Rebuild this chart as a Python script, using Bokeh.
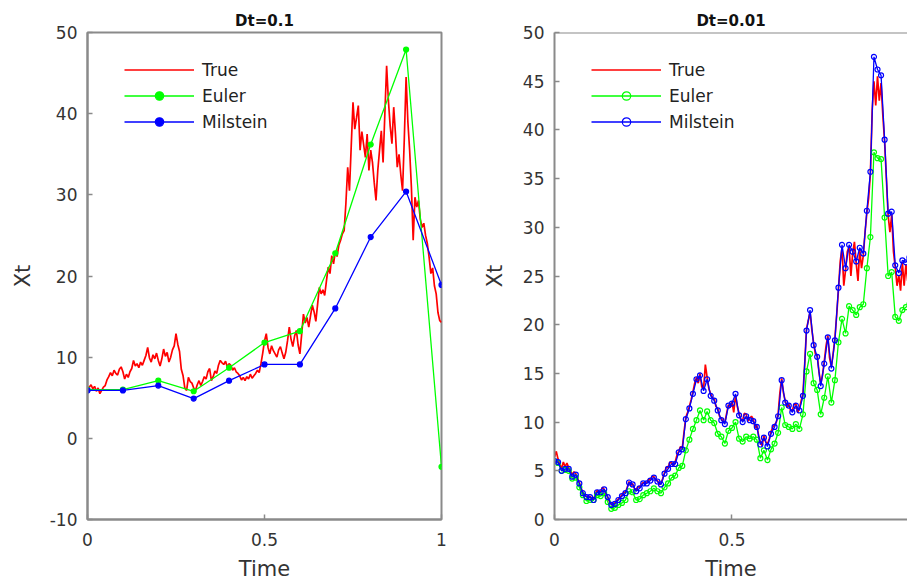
from bokeh.plotting import figure
from bokeh.layouts import row
from bokeh.models import Range1d, FixedTicker, Legend, LegendItem, Span
from bokeh.embed import file_html
from bokeh.resources import INLINE

# ---------------- data: coarse step Dt = 0.1 ----------------
t_coarse = [0.0, 0.1, 0.2, 0.3, 0.4, 0.5, 0.6, 0.7, 0.8, 0.9, 1.0]
euler_coarse = [6.0, 6.0, 7.1, 5.8, 8.7, 11.8, 13.2, 22.8, 36.2, 47.9, -3.5]
milstein_coarse = [5.9, 5.9, 6.5, 4.9, 7.1, 9.1, 9.1, 16.0, 24.8, 30.4, 18.9]

# exact path for the Dt = 0.1 panel, sampled every 0.005
true_coarse = [
    6.0, 6.3, 6.6, 6.1, 6.4, 5.8, 6.2, 5.5, 5.9, 6.3,
    6.5, 7.2, 7.6, 8.1, 7.7, 8.4, 8.0, 7.8, 8.5, 8.8,
    8.2, 7.3, 7.9, 7.5, 8.2, 8.6, 9.6, 8.9, 9.2, 8.7,
    9.4, 9.0, 9.6, 10.2, 11.2, 9.9, 9.4, 10.3, 9.8, 10.5,
    9.6, 8.9, 9.8, 11.0, 10.1, 10.6, 9.4, 10.0, 10.9, 11.4,
    12.9, 11.6, 10.7, 8.5, 7.7, 6.2, 5.9, 7.5, 7.0, 6.8,
    6.2, 5.9, 6.6, 7.1, 6.5, 7.0, 7.6, 7.3, 8.2, 8.6,
    7.1, 7.6, 8.3, 8.0, 9.0, 9.6, 9.3, 9.1, 9.5, 8.8,
    9.2, 9.0, 8.4, 8.7, 8.2, 8.0, 7.7, 7.2, 7.5, 7.1,
    7.6, 7.3, 7.9, 7.4, 7.7, 8.0, 8.4, 8.1, 9.2, 10.5,
    12.0, 12.9, 11.2, 10.4, 11.4, 10.8, 10.4, 10.0, 10.9, 11.3,
    10.5, 9.8, 10.6, 12.0, 13.7, 12.2, 11.3, 12.6, 13.3, 11.5,
    10.4, 12.8, 15.3, 14.2, 14.9, 13.7, 15.1, 16.4, 15.6, 14.4,
    16.5, 18.6, 17.8, 18.3, 17.6, 19.4, 21.1, 20.3, 22.5, 21.5,
    23.0, 22.4, 23.8, 24.4, 25.2, 25.6, 29.0, 33.4, 30.5, 36.0,
    41.4, 38.1, 39.5, 41.0, 35.5, 37.8, 36.2, 34.6, 37.5, 33.0,
    35.5, 34.0, 31.5, 29.3, 33.0, 35.5, 37.9, 34.0, 40.0, 45.9,
    41.6, 38.5, 36.3, 40.8, 37.5, 33.4, 35.0, 32.5, 30.5, 37.0,
    44.5, 39.0, 35.5, 30.9, 24.4, 29.7, 28.5, 29.3, 27.0, 26.0,
    26.5, 25.0, 24.0, 22.3, 20.3, 21.0, 18.8, 17.8, 15.5, 14.5,
    14.3,
]

# ---------------- data: fine step Dt = 0.01 ----------------
euler_fine = [
    6.0, 5.8, 5.0, 5.1, 5.0, 4.2, 4.3, 3.3, 2.5, 1.9,
    2.0, 2.0, 2.5, 2.4, 2.7, 1.8, 1.1, 1.2, 1.5, 1.7,
    2.0, 2.9, 2.8, 2.0, 2.1, 2.5, 2.7, 2.9, 3.2, 2.9,
    2.7, 3.3, 3.7, 4.3, 4.5, 5.3, 5.5, 7.1, 8.2, 9.3,
    10.2, 11.2, 10.2, 11.1, 10.2, 9.9, 8.8, 8.5, 7.8, 9.1,
    9.4, 10.0, 8.3, 8.0, 8.5, 8.3, 8.5, 8.2, 6.3, 7.1,
    6.1, 7.2, 7.8, 8.9, 11.5, 9.7, 9.5, 9.3, 9.8, 9.3,
    10.8, 15.2, 17.0, 14.0, 13.3, 10.8, 12.5, 14.7, 12.0, 14.3,
    18.2, 20.6, 19.1, 21.9, 21.5, 21.0, 21.8, 22.1, 25.8, 29.0,
    37.7, 37.1, 37.0, 31.0, 25.0, 25.4, 20.8, 20.4, 21.5, 21.8,
    22.1,
]
milstein_fine = [
    6.0, 5.9, 5.0, 5.2, 5.2, 4.4, 4.6, 3.7, 2.7, 2.3,
    2.3, 2.0, 2.8, 2.8, 3.1, 2.3, 1.5, 1.6, 2.0, 2.4,
    2.7, 3.8, 3.6, 2.9, 3.2, 3.7, 3.7, 4.0, 4.3, 3.9,
    3.6, 4.7, 5.2, 5.7, 5.7, 6.9, 7.2, 10.3, 11.4, 12.9,
    14.4, 14.8, 13.2, 14.4, 12.7, 12.2, 11.2, 10.2, 9.8, 11.7,
    11.9, 12.9, 10.7, 10.0, 10.6, 10.2, 10.1, 9.5, 7.7, 8.4,
    7.5, 8.8, 9.5, 10.6, 14.3, 12.0, 11.7, 11.0, 11.7, 11.2,
    12.7, 19.4, 21.5, 17.9, 16.7, 13.7, 16.0, 18.7, 15.5, 18.4,
    23.8, 28.2, 25.8, 28.2, 27.5, 26.5, 27.9, 27.3, 31.7, 35.7,
    47.5, 46.2, 45.6, 39.0, 31.4, 31.6, 26.1, 25.3, 26.6, 26.4,
    26.9,
]
# exact path for the Dt = 0.01 panel, sampled every 0.005
true_fine = [
    6.4, 7.0, 6.2, 5.6, 5.3, 5.9, 5.4, 5.8, 5.3, 5.0,
    4.6, 4.9, 4.7, 4.2, 3.8, 3.2, 2.8, 2.5, 2.4, 2.2,
    2.4, 2.1, 2.1, 2.6, 3.0, 2.7, 2.9, 3.3, 3.1, 2.6,
    2.3, 1.8, 1.6, 1.4, 1.7, 1.9, 2.1, 2.3, 2.5, 2.8,
    2.8, 3.3, 3.9, 3.5, 3.7, 3.2, 3.0, 3.4, 3.3, 3.6,
    3.8, 3.6, 3.8, 4.1, 4.1, 4.4, 4.4, 4.1, 4.0, 3.6,
    3.7, 4.2, 4.8, 5.4, 5.3, 5.9, 5.8, 5.5, 5.9, 6.6,
    7.0, 7.5, 7.3, 9.0, 10.5, 11.0, 11.6, 12.3, 13.1, 14.0,
    14.6, 14.0, 15.0, 13.6, 13.4, 15.9, 14.6, 13.4, 12.9, 12.5,
    12.4, 11.6, 11.4, 10.6, 10.4, 10.0, 10.0, 10.9, 11.8, 11.5,
    12.1, 11.0, 12.8, 11.6, 10.9, 10.2, 10.2, 10.9, 10.8, 10.1,
    10.4, 10.6, 10.3, 9.4, 9.7, 8.6, 7.9, 7.6, 8.6, 8.0,
    7.7, 8.3, 9.0, 9.5, 9.7, 10.0, 10.8, 13.0, 14.5, 13.0,
    12.2, 11.5, 11.9, 11.2, 11.2, 11.8, 11.9, 11.0, 11.4, 12.2,
    12.9, 16.0, 19.6, 20.4, 21.3, 19.5, 18.1, 17.0, 16.9, 15.2,
    13.9, 14.8, 16.2, 17.8, 18.9, 16.6, 15.7, 17.0, 18.6, 21.0,
    23.6, 26.5, 27.9, 24.0, 25.6, 27.5, 28.0, 25.0, 27.3, 28.5,
    26.3, 24.5, 27.7, 25.8, 27.1, 29.5, 31.5, 33.0, 35.5, 42.0,
    45.0, 42.5, 45.5, 43.0, 44.8, 41.5, 38.8, 35.0, 31.2, 29.5,
    31.3, 27.5, 25.9, 24.0, 25.1, 23.5, 26.4, 24.0, 26.2, 24.5,
    26.7,
]

x_ticks = [0, 0.5, 1]
x_tick_labels = {0: "0", 0.5: "0.5", 1: "1"}
left_y_ticks = [-10, 0, 10, 20, 30, 40, 50]
left_y_labels = {-10: "-10"}
right_y_ticks = [0, 5, 10, 15, 20, 25, 30, 35, 40, 45, 50]

TRUE_C, EULER_C, MIL_C = "#ff0000", "#00ff00", "#0000ff"
FONT = "DejaVu Sans"
AXIS_C = "#8a8a8a"
TEXT_C = "#333333"

fine_true_t = [i * 0.005 for i in range(len(true_fine))]
coarse_true_t = [i * 0.005 for i in range(len(true_coarse))]
fine_t = [i * 0.01 for i in range(len(euler_fine))]


def style_axis(ax):
    ax.axis_line_color = AXIS_C
    ax.axis_line_width = 2
    ax.major_tick_line_color = AXIS_C
    ax.major_tick_line_width = 1.5
    ax.major_tick_in = 5
    ax.major_tick_out = 0
    ax.minor_tick_line_color = None
    ax.major_label_text_font = FONT
    ax.major_label_text_font_size = "17px"
    ax.major_label_text_color = TEXT_C
    ax.axis_label_text_font = FONT
    ax.axis_label_text_font_size = "21px"
    ax.axis_label_text_font_style = "normal"
    ax.axis_label_text_color = TEXT_C


def make_panel(title, width, border_left, border_right, x_end, y_lo, y_hi,
               y_ticks, y_labels, t_true, y_true, t_num, y_euler, y_mil,
               hollow, full_box, label_standoff):
    p = figure(width=width, height=588, output_backend="svg",
               toolbar_location=None, x_range=Range1d(0, x_end),
               y_range=Range1d(y_lo, y_hi),
               min_border_left=border_left, min_border_right=border_right,
               min_border_top=32, min_border_bottom=69)
    p.grid.visible = False
    p.background_fill_color = "white"
    p.border_fill_color = "white"
    if full_box:
        p.outline_line_color = AXIS_C
        p.outline_line_width = 2
    else:
        # the frame runs past the page edge: only the top edge is boxed
        p.outline_line_color = None
        p.add_layout(Span(location=y_hi, dimension="width",
                          line_color=AXIS_C, line_width=2))

    p.title.text = title
    p.title.align = "center"
    p.title.text_font = FONT
    p.title.text_font_size = "15px"
    p.title.text_font_style = "bold"
    p.title.text_color = "#111111"
    p.title.standoff = 6

    xa = p.xaxis[0]
    xa.ticker = FixedTicker(ticks=x_ticks)
    xa.major_label_overrides = x_tick_labels
    xa.axis_label = "Time"
    style_axis(xa)
    xa.major_label_standoff = 13
    xa.axis_label_standoff = 8

    ya = p.yaxis[0]
    ya.ticker = FixedTicker(ticks=y_ticks)
    ya.major_label_overrides = y_labels
    ya.axis_label = "Xt"
    style_axis(ya)
    ya.major_label_standoff = 10
    ya.axis_label_standoff = label_standoff

    r_true = p.line(t_true, y_true, color=TRUE_C, line_width=1.7)
    l_eu = p.line(t_num, y_euler, color=EULER_C, line_width=1.3)
    m_eu = p.scatter(t_num, y_euler, marker="circle", size=5,
                     line_color=EULER_C, line_width=1.2,
                     fill_color=None if hollow else EULER_C)
    l_mi = p.line(t_num, y_mil, color=MIL_C, line_width=1.3)
    m_mi = p.scatter(t_num, y_mil, marker="circle", size=5,
                     line_color=MIL_C, line_width=1.2,
                     fill_color=None if hollow else MIL_C)

    legend = Legend(items=[
        LegendItem(label="True", renderers=[r_true]),
        LegendItem(label="Euler", renderers=[l_eu, m_eu]),
        LegendItem(label="Milstein", renderers=[l_mi, m_mi]),
    ], location=(37, 387), orientation="vertical")
    legend.border_line_color = None
    legend.background_fill_alpha = 0
    legend.label_text_font = FONT
    legend.label_text_font_size = "17px"
    legend.label_text_color = "#222222"
    legend.glyph_width = 70
    legend.glyph_height = 21
    legend.label_height = 21
    legend.label_standoff = 8
    legend.spacing = 5
    legend.padding = 0
    legend.margin = 0
    p.add_layout(legend)
    return p


left = make_panel("Dt=0.1", 460, 87, 19, 1.0, -10, 50, left_y_ticks,
                  left_y_labels, coarse_true_t, true_coarse, t_coarse,
                  euler_coarse, milstein_coarse, hollow=False,
                  full_box=True, label_standoff=12)
right = make_panel("Dt=0.01", 447, 94, 0, 0.9945, 0, 50, right_y_ticks,
                   {}, fine_true_t, true_fine, fine_t, euler_fine,
                   milstein_fine, hollow=True, full_box=False,
                   label_standoff=13)

layout = row(left, right)
open("out.html", "w").write(file_html(layout, INLINE))
